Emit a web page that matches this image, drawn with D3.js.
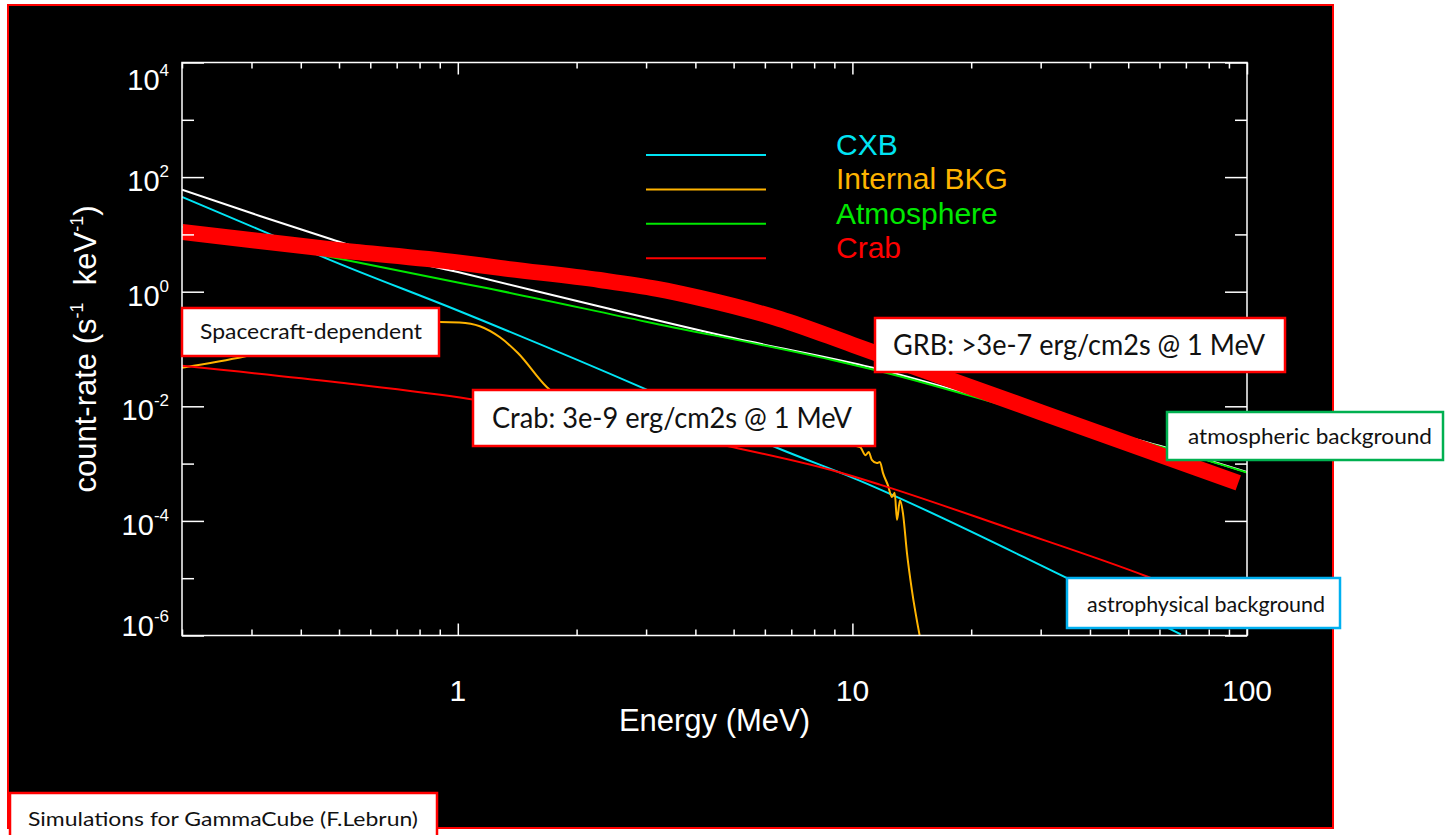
<!DOCTYPE html>
<html>
<head>
<meta charset="utf-8">
<script src="https://cdn.jsdelivr.net/npm/d3@7"></script>
<style>
  body { margin: 0; background: #fff; }
  svg { display: block; }
</style>
</head>
<body>
<div id="main"></div>
<script>

// datas : energy (MeV) , count-rate (s-1 keV-1)

const totalPts = [[0.2, 60], [0.315, 21], [0.474, 8.4], [0.6, 5.0], [1.0, 2.2], [2.29, 0.55], [5, 0.155], [11.27, 0.047], [30, 0.0071], [60, 0.00205], [100, 0.00071]];

const cxbPts = [[0.2, 45], [0.315, 12.0], [0.474, 3.6], [1.0, 0.47], [2.94, 0.021], [6.55, 0.0018], [10, 0.00057], [35, 0.00001], [68, 0.00000105]];

const atmoPts = [[0.2, 13.5], [0.354, 6.1], [1.0, 1.45], [1.137, 1.22], [3.0, 0.30], [9.3, 0.060], [11.27, 0.044], [30, 0.0069], [60, 0.002], [100, 0.0007]];

const internalPts = [[0.2, 0.047], [0.288, 0.074], [0.45, 0.16], [0.7, 0.26], [0.9, 0.297], [1.01, 0.29], [1.137, 0.25], [1.279, 0.16], [1.42, 0.085], [1.68, 0.0217],
  [2.0, 0.009], [3.0, 0.005], [5.0, 0.0035], [8.0, 0.0026], [10.45, 0.00195], [10.8, 0.0014], [11.0, 0.0016], [11.2, 0.00116], [11.53, 0.00102], [11.74, 0.00107],
  [11.95, 0.00069], [12.3, 0.00042], [12.6, 0.00026], [12.8, 0.00031], [12.97, 0.000104], [13.2, 0.00023], [13.43, 0.000137], [13.75, 0.0000275], [14.15, 0.0000062], [14.83, 0.00000094]];

const crabPts = [[0.2, 0.051], [0.5, 0.026], [1.07, 0.0134], [2.0, 0.0061], [4.89, 0.00198], [9.3, 0.0007], [11.74, 0.00043], [25, 0.000074], [55.8, 0.0000107], [100, 0.0000021]];

const grbPts = [[0.2, 11.0], [0.5, 5.3], [1.0, 3.25], [1.278, 2.6], [2.29, 1.6], [3.2, 1.12], [4.1, 0.78], [6.55, 0.334], [10, 0.119], [30, 0.0079], [95, 0.00046]];

const legendNames = ['CXB', 'Internal BKG', 'Atmosphere', 'Crab'];
const legendColors = ['#00e4f4', '#ffb400', '#00e800', '#ff0000'];

const xMajor = [1, 10, 100];
const xMinor = [0.2, 0.3, 0.4, 0.5, 0.6, 0.7, 0.8, 0.9, 2, 3, 4, 5, 6, 7, 8, 9, 20, 30, 40, 50, 60, 70, 80, 90];
const yMajor = [1e4, 1e2, 1e0, 1e-2, 1e-4, 1e-6];
const yMinor = [1e3, 1e1, 1e-1, 1e-3, 1e-5];
const yExp = ['4', '2', '0', '-2', '-4', '-6'];

const noteText = ['Spacecraft-dependent', 'Crab: 3e-9 erg/cm2s @ 1 MeV', 'GRB: >3e-7 erg/cm2s @ 1 MeV', 'atmospheric background', 'astrophysical background', 'Simulations for GammaCube (F.Lebrun)'];


const w = 1445;
const h = 835;
const pLeft = 182, pRight = 1247, pTop = 62.5, pBottom = 635.5;
const fontPlot = '"Liberation Sans", Arial, Helvetica, sans-serif';
const fontNote = 'Lato, Carlito, Calibri, sans-serif';

// svg

const svg = d3.select('#main').append('svg').attr('width', w).attr('height', h);

svg.append('rect').attr('width', w).attr('height', h).attr('fill', '#fff');

svg.append('rect')
    .attr('x', 8).attr('y', 5)
    .attr('width', 1325).attr('height', 823)
    .attr('fill', '#000')
    .attr('stroke', '#ff0000')
    .attr('stroke-width', 2);

// scales

const x = d3.scaleLog().domain([0.2, 100]).range([pLeft, pRight]);
const y = d3.scaleLog().domain([1e-6, 1e4]).range([pBottom, pTop]);

svg.append('clipPath').attr('id', 'plotclip')
    .append('rect')
    .attr('x', pLeft).attr('y', pTop)
    .attr('width', pRight - pLeft).attr('height', pBottom - pTop);

const line = d3.line()
    .x(d => x(d[0]))
    .y(d => y(d[1]))
    .curve(d3.curveMonotoneX);

const curves = svg.append('g').attr('clip-path', 'url(#plotclip)');

const series = [
    { pts: totalPts, color: '#ffffff', width: 2 },
    { pts: atmoPts, color: legendColors[2], width: 2 },
    { pts: cxbPts, color: legendColors[0], width: 2 },
    { pts: internalPts, color: legendColors[1], width: 2 },
    { pts: crabPts, color: legendColors[3], width: 2 },
    { pts: grbPts, color: '#ff0000', width: 16 }
];

curves.selectAll('path')
    .data(series)
    .enter()
    .append('path')
    .attr('d', d => line(d.pts))
    .attr('fill', 'none')
    .attr('stroke', d => d.color)
    .attr('stroke-width', d => d.width)
    .attr('stroke-linejoin', 'round');

// axes

function tickAxis(axis, values, size, transform) {
    const g = svg.append('g')
        .attr('transform', transform)
        .call(axis.tickValues(values).tickSize(size).tickFormat(''));
    g.select('.domain').remove();
    g.selectAll('line').attr('stroke', '#fff').attr('stroke-width', 1.5);
    return g;
}

tickAxis(d3.axisBottom(x), xMajor, -12, `translate(0,${pBottom})`);
tickAxis(d3.axisBottom(x), xMinor, -6, `translate(0,${pBottom})`);
tickAxis(d3.axisTop(x), xMajor, -12, `translate(0,${pTop})`);
tickAxis(d3.axisTop(x), xMinor, -6, `translate(0,${pTop})`);

tickAxis(d3.axisLeft(y), yMajor, -22, `translate(${pLeft},0)`);
tickAxis(d3.axisLeft(y), yMinor, -12, `translate(${pLeft},0)`);
tickAxis(d3.axisRight(y), yMajor, -22, `translate(${pRight},0)`);
tickAxis(d3.axisRight(y), yMinor, -12, `translate(${pRight},0)`);

svg.append('rect')
    .attr('x', pLeft).attr('y', pTop)
    .attr('width', pRight - pLeft).attr('height', pBottom - pTop)
    .attr('fill', 'none')
    .attr('stroke', '#fff')
    .attr('stroke-width', 1.5);

// tick labels

svg.append('g').selectAll('text')
    .data(xMajor)
    .enter()
    .append('text')
    .attr('x', d => x(d))
    .attr('y', 701)
    .attr('text-anchor', 'middle')
    .attr('fill', '#fff')
    .attr('font-family', fontPlot)
    .attr('font-size', 30)
    .text(d => d);

const labelY = v => Math.min(Math.max(y(v) + 3, pTop + 16), pBottom - 11);

const yLab = svg.append('g').selectAll('text')
    .data(yMajor)
    .enter()
    .append('text')
    .attr('x', pLeft - 13)
    .attr('y', d => labelY(d) + 11)
    .attr('text-anchor', 'end')
    .attr('fill', '#fff')
    .attr('font-family', fontPlot)
    .attr('font-size', 29);

yLab.append('tspan').text('10');
yLab.append('tspan')
    .attr('dy', -14)
    .attr('font-size', 17)
    .text((d, i) => yExp[i]);

// axis titles

svg.append('text')
    .attr('x', (pLeft + pRight) / 2)
    .attr('y', 731)
    .attr('text-anchor', 'middle')
    .attr('fill', '#fff')
    .attr('font-family', fontPlot)
    .attr('font-size', 31)
    .text('Energy (MeV)');

const yTitle = svg.append('text')
    .attr('transform', `translate(96,${(pTop + pBottom) / 2}) rotate(-90)`)
    .attr('text-anchor', 'middle')
    .attr('fill', '#fff')
    .attr('font-family', fontPlot)
    .attr('font-size', 31);

yTitle.append('tspan').text('count-rate (s');
yTitle.append('tspan').attr('dy', -13).attr('font-size', 18).text('-1');
yTitle.append('tspan').attr('dy', 13).text('\u00a0 keV');
yTitle.append('tspan').attr('dy', -13).attr('font-size', 18).text('-1');
yTitle.append('tspan').attr('dy', 13).text(')');

// legend

const legend = svg.append('g').attr('class', 'legend');

const items = legend.selectAll('g')
    .data(legendNames)
    .enter()
    .append('g')
    .attr('transform', (d, i) => `translate(0,${155 + i * 34.4})`);

items.append('line')
    .attr('x1', 646).attr('x2', 766)
    .attr('stroke', (d, i) => legendColors[i])
    .attr('stroke-width', 2);

items.append('text')
    .attr('x', 836)
    .attr('fill', (d, i) => legendColors[i])
    .attr('font-family', fontPlot)
    .attr('font-size', 30)
    .text(d => d);

// annotation boxes : x, y, w, h, text x, baseline, text length, font size, border

const noteBoxes = [
    [182, 308, 257, 48, 200, 339, 222, 22, '#ff0000'],
    [473, 390, 402, 56, 492, 428, 360, 28, '#ff0000'],
    [875, 318, 410, 54, 893, 355, 372, 28, '#ff0000'],
    [1167, 412, 276, 48, 1188, 444, 244, 21, '#00b050'],
    [1067, 578, 273, 50, 1087, 612, 238, 21, '#00b0f0'],
    [10, 793, 427, 46, 28, 826, 390, 20, '#ff0000']
];

const notes = svg.append('g').selectAll('g')
    .data(noteText)
    .enter()
    .append('g');

notes.append('rect')
    .attr('x', (d, i) => noteBoxes[i][0])
    .attr('y', (d, i) => noteBoxes[i][1])
    .attr('width', (d, i) => noteBoxes[i][2])
    .attr('height', (d, i) => noteBoxes[i][3])
    .attr('fill', '#fff')
    .attr('stroke', (d, i) => noteBoxes[i][8])
    .attr('stroke-width', 2.5);

notes.append('text')
    .attr('x', (d, i) => noteBoxes[i][4])
    .attr('y', (d, i) => noteBoxes[i][5])
    .attr('textLength', (d, i) => noteBoxes[i][6])
    .attr('lengthAdjust', 'spacingAndGlyphs')
    .attr('font-size', (d, i) => noteBoxes[i][7])
    .attr('font-family', fontNote)
    .attr('fill', '#111')
    .text(d => d);

</script>
</body>
</html>
